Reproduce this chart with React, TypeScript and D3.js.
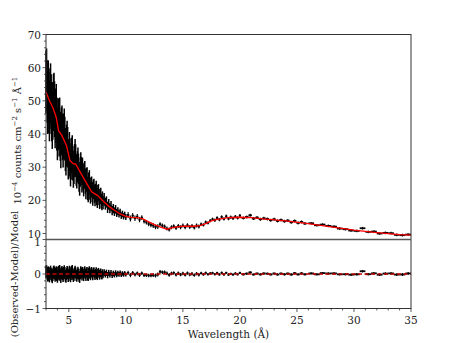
import * as d3 from "d3";

// spectrum bins: wavelength (A), observed flux (1e-4 counts cm^-2 s^-1 A^-1), 1-sigma error
const wavelength = [
  3.0, 3.05, 3.1, 3.15, 3.2, 3.25, 3.3, 3.35, 3.4, 3.45, 3.5, 3.55, 3.6, 3.65, 3.7, 3.75, 3.8, 3.85, 3.9, 3.95,
  4.0, 4.05, 4.1, 4.15, 4.2, 4.25, 4.3, 4.35, 4.4, 4.45, 4.5, 4.55, 4.6, 4.65, 4.7, 4.75, 4.8, 4.85, 4.9, 4.95,
  5.0, 5.05, 5.1, 5.15, 5.2, 5.25, 5.3, 5.35, 5.4, 5.45, 5.5, 5.55, 5.6, 5.65, 5.7, 5.75, 5.8, 5.85, 5.9, 5.95,
  6.0, 6.05, 6.1, 6.15, 6.2, 6.25, 6.3, 6.35, 6.4, 6.45, 6.5, 6.55, 6.6, 6.65, 6.7, 6.75, 6.8, 6.85, 6.9, 6.95,
  7.0, 7.05, 7.1, 7.15, 7.2, 7.25, 7.3, 7.35, 7.4, 7.45, 7.5, 7.55, 7.6, 7.65, 7.7, 7.75, 7.8, 7.85, 7.9, 7.95,
  8.0, 8.1, 8.2, 8.3, 8.4, 8.5, 8.6, 8.7, 8.8, 8.9, 9.0, 9.1, 9.2, 9.3, 9.4, 9.5, 9.6, 9.7, 9.8, 9.9, 10.0,
  10.2, 10.4, 10.6, 10.8, 11.0, 11.2, 11.4, 11.6, 11.8, 12.0, 12.2, 12.4, 12.6, 12.8, 13.0, 13.2,
  13.4, 13.6, 13.8, 14.0, 14.2, 14.4, 14.6, 14.8, 15.0, 15.2, 15.4, 15.6, 15.8, 16.0, 16.2, 16.4,
  16.6, 16.8, 17.0, 17.2, 17.4, 17.6, 17.8, 18.0, 18.2, 18.4, 18.6, 18.8, 19.0, 19.2, 19.4, 19.6, 19.8,
  20.0, 20.3, 20.6, 20.9, 21.2, 21.5, 21.8, 22.1, 22.4, 22.7, 23.0, 23.3, 23.6, 23.9, 24.2, 24.5,
  24.8, 25.1, 25.4, 25.7,
  26.25, 26.75, 27.25, 27.75, 28.25, 28.75, 29.25, 29.75, 30.25, 30.75, 31.25, 31.75, 32.25, 32.75,
  33.25, 33.75, 34.25, 34.75,
];

const flux = [
  55.7, 56.3, 52.8, 49.4, 52.9, 49.5, 47.0, 50.7, 52.3, 49.0, 46.7, 44.3, 47.0, 49.5, 50.0, 47.5, 44.0, 45.5, 47.0, 43.0,
  40.0, 43.0, 43.0, 40.8, 43.5, 39.3, 37.0, 40.8, 41.5, 39.1, 36.8, 39.4, 41.0, 38.6, 35.3, 33.9, 36.5, 37.8, 36.0, 32.3,
  32.5, 34.8, 33.0, 29.8, 31.7, 33.5, 34.3, 31.2, 29.0, 30.0, 32.0, 33.5, 32.0, 29.2, 28.4, 30.1, 31.3, 29.5, 27.1, 25.8,
  28.5, 30.2, 28.9, 26.6, 28.8, 27.0, 25.2, 27.4, 28.1, 25.8, 24.0, 26.2, 26.4, 23.6, 22.8, 25.0, 25.8, 23.5, 22.2, 23.9,
  24.1, 22.5, 21.4, 23.3, 23.6, 22.0, 21.0, 22.3, 23.2, 21.1, 20.3, 22.1, 22.4, 21.0, 19.8, 21.2, 21.5, 19.8, 19.2, 20.6,
  19.3, 20.3, 19.0, 19.5, 17.9, 18.8, 17.6, 18.3, 16.9, 17.5, 16.6, 17.3, 16.2, 16.7, 15.9, 16.4, 15.4, 15.9, 15.2, 15.7, 15.0,
  15.6, 14.5, 15.4, 14.6, 15.1, 14.2, 14.8, 13.7, 13.4, 12.9, 12.6, 12.4, 12.0, 12.1, 12.8, 12.4,
  12.1, 11.5, 11.2, 11.9, 12.2, 11.7, 12.3, 11.9, 12.4, 11.9, 12.5, 12.0, 12.3, 11.8, 12.4, 12.1,
  12.8, 12.6, 13.4, 13.2, 13.9, 14.3, 14.0, 14.7, 14.2, 15.0, 14.4, 15.2, 14.5, 14.9, 14.6, 15.1, 14.7,
  15.4, 14.7, 15.0, 15.5, 14.5, 14.8, 14.3, 14.6, 14.4, 14.0, 14.3, 13.8, 14.1, 13.7, 13.9, 13.4,
  13.8, 13.2, 13.5, 13.0,
  13.1, 12.5, 12.7, 12.3, 12.1, 11.5, 11.3, 10.9, 10.8, 11.6, 10.5, 10.6, 10.0, 10.2,
  10.1, 9.6, 9.5, 9.7,
];

const fluxErr = [
  9.5, 9.5, 9.4, 9.4, 9.3, 9.3, 9.2, 9.1, 9.0, 9.0, 8.9, 8.8, 8.7, 8.6, 8.5, 8.4, 8.3, 8.2, 8.1, 8.0,
  7.9, 7.8, 7.7, 7.6, 7.5, 7.4, 7.3, 7.2, 7.1, 7.0, 6.9, 6.8, 6.7, 6.6, 6.5, 6.4, 6.3, 6.2, 6.1, 6.0,
  5.9, 5.8, 5.7, 5.6, 5.5, 5.4, 5.3, 5.2, 5.2, 5.1, 5.0, 5.0, 4.9, 4.8, 4.8, 4.7, 4.6, 4.6, 4.5, 4.4,
  4.4, 4.3, 4.2, 4.2, 4.1, 4.0, 4.0, 3.9, 3.8, 3.8, 3.7, 3.6, 3.6, 3.5, 3.4, 3.4, 3.3, 3.3, 3.2, 3.1,
  3.1, 3.0, 3.0, 2.9, 2.9, 2.8, 2.8, 2.7, 2.7, 2.6, 2.6, 2.5, 2.5, 2.4, 2.4, 2.3, 2.3, 2.2, 2.2, 2.1,
  2.0, 1.9, 1.8, 1.7, 1.7, 1.6, 1.5, 1.5, 1.4, 1.4, 1.3, 1.3, 1.2, 1.2, 1.1, 1.1, 1.0, 1.0, 0.95, 0.9, 0.9,
  0.9, 0.9, 0.8, 0.8, 0.8, 0.8, 0.7, 0.7, 0.7, 0.7, 0.7, 0.7, 0.7, 0.7, 0.6, 0.6,
  0.6, 0.6, 0.6, 0.6, 0.6, 0.6, 0.6, 0.6, 0.6, 0.6, 0.6, 0.6, 0.6, 0.6, 0.6, 0.6,
  0.5, 0.5, 0.5, 0.5, 0.5, 0.5, 0.5, 0.5, 0.5, 0.5, 0.5, 0.5, 0.5, 0.5, 0.5, 0.5, 0.5,
  0.45, 0.45, 0.45, 0.45, 0.45, 0.45, 0.45, 0.45, 0.45, 0.45, 0.45, 0.45, 0.45, 0.45, 0.45, 0.45,
  0.45, 0.45, 0.45, 0.45,
  0.4, 0.4, 0.4, 0.4, 0.4, 0.4, 0.4, 0.4, 0.4, 0.4, 0.4, 0.4, 0.4, 0.4,
  0.4, 0.4, 0.4, 0.4,
];

// fitted model
const modelWavelength = [
  3.0, 3.3, 3.6, 3.9, 4.1, 4.4, 4.8, 5.1, 5.4, 5.6, 6.0, 6.5, 7.0, 7.5, 8.0, 8.5, 9.0, 9.5, 10.0,
  10.5, 11.0, 11.5, 12.0, 12.5, 13.0, 13.6, 14.0, 14.5, 15.0, 16.0, 16.5, 17.0, 17.5, 18.0, 19.0,
  20.0, 21.0, 22.0, 24.0, 26.0, 28.0, 30.0, 32.0, 34.0, 35.0,
];
const modelFlux = [
  52.7, 50.0, 48.0, 45.0, 41.0, 39.5, 36.5, 32.0, 31.0, 31.0, 28.5, 25.5, 22.6, 21.5, 19.8, 18.2, 17.0, 15.9, 15.2,
  14.9, 14.8, 14.4, 13.5, 12.7, 12.0, 11.3, 11.7, 12.0, 12.2, 12.2, 12.4, 13.0, 13.8, 14.3, 14.8,
  14.9, 14.8, 14.4, 13.8, 13.0, 12.0, 11.0, 10.3, 9.7, 9.5,
];

const xTicks = [5, 10, 15, 20, 25, 30, 35];
const topTicks = [10, 20, 30, 40, 50, 60, 70];
const residTicks = [-1, 0, 1];

const W = 457;
const H = 343;
const FONT = "DejaVu Serif";
const AXIS = "#333";

export default function App() {
  const x = d3.scaleLinear().domain([3, 35]).range([46, 411]);
  const yTop = d3.scaleLinear().domain([8.2, 70]).range([239.5, 34.5]);
  const yRes = d3.scaleLinear().domain([-1, 1]).range([308.5, 239.5]);
  const modelAt = d3.scaleLinear().domain(modelWavelength).range(modelFlux);

  // bin edges halfway to the neighbours
  const pts = wavelength.map((w, i) => {
    const n = wavelength.length;
    const left = i > 0 ? (w - wavelength[i - 1]) / 2 : (wavelength[1] - w) / 2;
    const right = i < n - 1 ? (wavelength[i + 1] - w) / 2 : (w - wavelength[i - 1]) / 2;
    const half = Math.min(left, right);
    const m = modelAt(w);
    return {
      w,
      lo: w - half,
      hi: w + half,
      f: flux[i],
      e: fluxErr[i],
      r: (flux[i] - m) / m,
      re: fluxErr[i] / m,
    };
  });
  // dense bins get a stroke wide enough to merge into a band, as in the original
  const vWidth = (p: { lo: number; hi: number }) => (x(p.hi) - x(p.lo) < 1.5 ? 1.5 : 1.1);

  const modelLine = d3
    .line<number>()
    .x((_, i) => x(modelWavelength[i]))
    .y((d) => yTop(d))(modelFlux);

  const xMinor = d3.range(3, 36, 1).filter((v) => v % 5 !== 0);
  const topMinor = d3.range(10, 70, 2).filter((v) => v % 10 !== 0);
  const resMinor = d3.range(-0.8, 1, 0.2).filter((v) => Math.abs(v) > 0.01);

  return (
    <svg
      width={W}
      height={H}
      style={{ position: "absolute", left: 0, top: 0, background: "#fff", fontFamily: FONT }}
    >
      {/* top panel: data with error bars */}
      <g stroke="#000">
        {pts.map((p, i) => (
          <g key={i}>
            <line x1={x(p.w)} x2={x(p.w)} y1={yTop(p.f - p.e)} y2={yTop(p.f + p.e)} strokeWidth={vWidth(p)} />
            <line x1={x(p.lo)} x2={x(p.hi)} y1={yTop(p.f)} y2={yTop(p.f)} strokeWidth={1.8} />
          </g>
        ))}
      </g>
      <path d={modelLine ?? ""} fill="none" stroke="#ff0000" strokeWidth={1.3} />

      {/* residual panel */}
      <g stroke="#000">
        {pts.map((p, i) => (
          <g key={i}>
            <line x1={x(p.w)} x2={x(p.w)} y1={yRes(p.r - p.re)} y2={yRes(p.r + p.re)} strokeWidth={vWidth(p)} />
            <line x1={x(p.lo)} x2={x(p.hi)} y1={yRes(p.r)} y2={yRes(p.r)} strokeWidth={1.8} />
          </g>
        ))}
      </g>
      <line
        x1={x(3)}
        x2={x(35)}
        y1={yRes(0)}
        y2={yRes(0)}
        stroke="#c00000"
        strokeWidth={1.5}
        strokeDasharray="4,2.5"
      />

      {/* frames */}
      <rect x={x(3)} y={yTop(70)} width={x(35) - x(3)} height={yRes(-1) - yTop(70)} fill="none" stroke={AXIS} strokeWidth={1} />
      <line x1={x(3)} x2={x(35)} y1={yRes(1)} y2={yRes(1)} stroke="#555" strokeWidth={1.4} />

      {/* ticks, pointing out */}
      <g stroke={AXIS} strokeWidth={0.8}>
        {xTicks.map((t) => (
          <line key={t} x1={x(t)} x2={x(t)} y1={yRes(-1)} y2={yRes(-1) + 3.5} />
        ))}
        {xMinor.map((t) => (
          <line key={t} x1={x(t)} x2={x(t)} y1={yRes(-1)} y2={yRes(-1) + 2} />
        ))}
        {topTicks.map((t) => (
          <line key={t} x1={x(3)} x2={x(3) - 3.5} y1={yTop(t)} y2={yTop(t)} />
        ))}
        {topMinor.map((t) => (
          <line key={t} x1={x(3)} x2={x(3) - 2} y1={yTop(t)} y2={yTop(t)} />
        ))}
        {residTicks.map((t) => (
          <line key={t} x1={x(3)} x2={x(3) - 3.5} y1={yRes(t)} y2={yRes(t)} />
        ))}
        {resMinor.map((t, i) => (
          <line key={i} x1={x(3)} x2={x(3) - 2} y1={yRes(t)} y2={yRes(t)} />
        ))}
      </g>

      <g fontSize={10.5} fill="#222">
        {xTicks.map((t) => (
          <text key={t} x={x(t)} y={yRes(-1) + 15} textAnchor="middle">
            {t}
          </text>
        ))}
        {topTicks.map((t) => (
          <text key={t} x={x(3) - 5} y={yTop(t) + 4} textAnchor="end">
            {t}
          </text>
        ))}
        {residTicks.map((t) => (
          <text key={t} x={x(3) - 5} y={yRes(t) + (t === 1 ? 6.5 : 4)} textAnchor="end">
            {t < 0 ? "\u2212" + Math.abs(t) : t}
          </text>
        ))}
        <text x={(x(3) + x(35)) / 2} y={338} textAnchor="middle">
          Wavelength (Å)
        </text>
        <text transform={`translate(21,${yTop(38)}) rotate(-90)`} textAnchor="middle" fontSize={10}>
          <tspan>10</tspan>
          <tspan dy={-4} fontSize={7}>−4</tspan>
          <tspan dy={4}> counts cm</tspan>
          <tspan dy={-4} fontSize={7}>−2</tspan>
          <tspan dy={4}> s</tspan>
          <tspan dy={-4} fontSize={7}>−1</tspan>
          <tspan dy={4}> Å</tspan>
          <tspan dy={-4} fontSize={7}>−1</tspan>
        </text>
        <text transform={`translate(18,${yRes(0)}) rotate(-90)`} textAnchor="middle" fontSize={10}>
          (Observed-Model)/Model
        </text>
      </g>
    </svg>
  );
}
